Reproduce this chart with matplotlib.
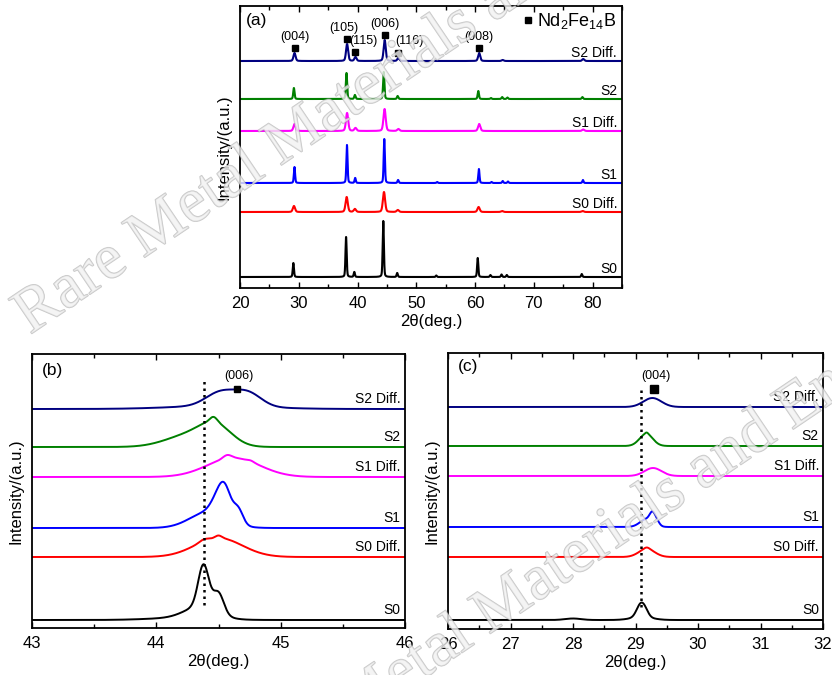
import numpy as np
import matplotlib
matplotlib.use("Agg")
import matplotlib.pyplot as plt
from matplotlib import patheffects as pe
from matplotlib.lines import Line2D
from matplotlib.ticker import MultipleLocator
from matplotlib.transforms import blended_transform_factory

plt.rcParams['font.family'] = ['Liberation Sans', 'DejaVu Sans']
plt.rcParams['mathtext.fontset'] = 'custom'
plt.rcParams['mathtext.rm'] = 'Liberation Sans'
plt.rcParams['mathtext.it'] = 'Liberation Sans:italic'
plt.rcParams['mathtext.bf'] = 'Liberation Sans:bold'

# ---------------------------------------------------------------- data
samples = ["S0", "S0 Diff.", "S1", "S1 Diff.", "S2", "S2 Diff."]
colors = ["#000000", "#ff0000", "#0000ff", "#ff00ff", "#008000", "#000080"]

# (a) full scan: peak positions (deg), heights (a.u.) and FWHM per sample
pos_a = [
    [29.08, 38.05, 39.45, 44.38, 46.75, 53.40, 60.45, 62.60, 64.50, 65.40, 78.15],
    [29.18, 38.15, 39.55, 44.50, 46.85, 60.60, 64.60, 78.30],
    [29.27, 38.20, 39.60, 44.55, 46.90, 53.55, 60.65, 62.80, 64.70, 65.60, 78.35],
    [29.28, 38.22, 39.65, 44.60, 46.95, 60.70, 78.40],
    [29.17, 38.12, 39.55, 44.46, 46.82, 60.55, 62.70, 64.60, 65.50, 78.25],
    [29.28, 38.22, 39.65, 44.62, 46.95, 60.70, 64.70, 78.40],
]
height_a = [
    [14, 40, 5, 56, 4, 1.5, 19, 2, 2.5, 2, 3],
    [6, 15, 3, 20, 2, 5, 1, 1],
    [16, 38, 5, 44, 3, 1, 14, 1, 2, 1.5, 3],
    [7, 18, 3, 22, 2, 7, 1.5],
    [11, 26, 4, 27, 3, 8, 1, 2, 1.5, 2],
    [8, 17, 4, 21, 3, 8, 1, 2],
]
fwhm_a = [0.24, 0.45, 0.24, 0.45, 0.26, 0.42]
offset_a = [11, 76, 105, 157, 189, 227]

# indexed Nd2Fe14B reflections marked on the S2 Diff. pattern
hkl_labels = ["(004)", "(105)", "(115)", "(006)", "(116)", "(008)"]
hkl_peak_index = [0, 1, 2, 3, 4, 5]

# (b) (006) region: components (centre, height, FWHM) per sample
comp_b = [
    [(44.38, 42, 0.10), (44.50, 20, 0.10), (44.36, 12, 0.30), (44.20, 2, 0.60)],
    [(44.50, 19, 0.45), (44.50, 2.5, 0.06), (44.38, 2, 0.08)],
    [(44.55, 30, 0.12), (44.66, 14, 0.09), (44.48, 10, 0.12), (44.42, 16, 0.35)],
    [(44.62, 19, 0.50), (44.57, 3.5, 0.08), (44.76, 1.2, 0.06)],
    [(44.48, 18, 0.30), (44.27, 12, 0.45), (44.46, 5, 0.07)],
    [(44.52, 14, 0.28), (44.74, 13, 0.25), (44.50, 3, 0.90)],
]
offset_b = [8, 71, 100, 151, 181, 219]
ref_b = 44.38
hkl_b = ("(006)", 44.65)

# (c) (004) region
comp_c = [
    [(29.08, 12, 0.15), (29.155, 5, 0.13), (29.10, 3, 0.40), (28.00, 1.5, 0.30)],
    [(29.18, 8, 0.30), (29.18, 1.5, 0.10)],
    [(29.18, 8, 0.25), (29.27, 9, 0.10), (29.34, 4, 0.10)],
    [(29.28, 8, 0.32)],
    [(29.17, 12, 0.25), (29.18, 1.5, 0.06)],
    [(29.27, 9, 0.34)],
]
offset_c = [9, 72, 102, 153, 183, 222]
ref_c = 29.09
hkl_c = ("(004)", 29.30)


def profile(x, comps, eta=0.0):
    y = np.zeros_like(x)
    for c, h, w in comps:
        d = 2.0 * (x - c) / w
        y += h * ((1 - eta) * np.exp(-np.log(2) * d ** 2) + eta / (1 + d ** 2))
    return y


# ---------------------------------------------------------------- figure
W, H = 832, 675
fig = plt.figure(figsize=(W / 100, H / 100), dpi=100)


def add_axes_px(l, t, r, b):
    return fig.add_axes([l / W, 1 - b / H, (r - l) / W, (b - t) / H])


ax_a = add_axes_px(240, 6, 622, 288)
ax_b = add_axes_px(32, 354, 405, 628)
ax_c = add_axes_px(448, 353, 823, 629)


def style_axes(ax, xlim, major, minor, ytop, tag, tagx, tagy):
    ax.set_xlim(*xlim)
    ax.set_ylim(0, ytop)
    ax.xaxis.set_major_locator(MultipleLocator(major))
    ax.xaxis.set_minor_locator(MultipleLocator(minor))
    ax.set_yticks([])
    ax.tick_params(axis='x', which='both', direction='in', top=True,
                   labelsize=12, pad=6, width=1.0)
    ax.tick_params(axis='x', which='major', length=4)
    ax.tick_params(axis='x', which='minor', length=3)
    for s in ax.spines.values():
        s.set_linewidth(1.3)
    ax.set_xlabel('2θ(deg.)', fontsize=12, labelpad=2)
    ax.set_ylabel('Intensity/(a.u.)', fontsize=12, labelpad=6)
    ax.text(tagx, tagy, tag, transform=ax.transAxes, fontsize=12.5,
            ha='left', va='center')


def draw_labels(ax, offsets, lift, xr):
    tr = blended_transform_factory(ax.transAxes, ax.transData)
    for name, off in zip(samples, offsets):
        ax.text(xr, off + lift, name, transform=tr, ha='right', va='center',
                fontsize=10)


# (a)
x_a = np.arange(20, 85.0001, 0.005)
style_axes(ax_a, (20, 85), 10, 5, 282, '(a)', 0.016, 1 - 15 / 282)
for i in range(6):
    comps = list(zip(pos_a[i], height_a[i], [fwhm_a[i]] * len(pos_a[i])))
    ax_a.plot(x_a, offset_a[i] + profile(x_a, comps, eta=0.3),
              color=colors[i], lw=1.5)
draw_labels(ax_a, offset_a, 8, 0.987)

# reflection markers on the top pattern
top = 5
label_shift = {"(115)": (6, 8), "(116)": (8, 8.5), "(105)": (-2, 8)}
for lab, k in zip(hkl_labels, hkl_peak_index):
    px = pos_a[top][k]
    py = offset_a[top] + height_a[top][k] + 5
    ax_a.plot(px, py, 's', color='k', ms=4.5)
    dx, dy = label_shift.get(lab, (0, 8))
    ax_a.annotate(lab, (px, py), xytext=(dx, dy), textcoords='offset points',
                  ha='center', va='center', fontsize=9)

leg_handle = Line2D([], [], marker='s', color='k', ls='none', ms=5)
ax_a.legend([leg_handle], [r'Nd$_2$Fe$_{14}$B'], loc='upper right',
            frameon=False, fontsize=13, handlelength=0.6, handletextpad=0.2,
            borderaxespad=0.1, borderpad=0.2)

# (b)
x_b = np.linspace(43, 46, 3001)
style_axes(ax_b, (43, 46), 1, 0.5, 274, '(b)', 0.027, 1 - 16 / 274)
for i in range(6):
    ax_b.plot(x_b, offset_b[i] + profile(x_b, comp_b[i]), color=colors[i], lw=1.4)
draw_labels(ax_b, offset_b, 10, 0.987)
ax_b.plot([ref_b, ref_b], [23, 248], color='k', lw=1.8, ls=(0, (1, 1.6)))
yb = offset_b[5] + profile(np.array([hkl_b[1]]), comp_b[5])[0]
ax_b.plot(hkl_b[1], yb, 's', color='k', ms=5)
ax_b.annotate(hkl_b[0], (hkl_b[1], yb), xytext=(1, 10), textcoords='offset points',
              ha='center', va='center', fontsize=9)

# (c)
x_c = np.linspace(26, 32, 3001)
style_axes(ax_c, (26, 32), 1, 0.5, 276, '(c)', 10 / 375, 1 - 14 / 276)
for i in range(6):
    ax_c.plot(x_c, offset_c[i] + profile(x_c, comp_c[i]), color=colors[i], lw=1.4)
draw_labels(ax_c, offset_c, 10, 0.989)
ax_c.plot([ref_c, ref_c], [22, 242], color='k', lw=1.8, ls=(0, (1, 1.6)))
yc = offset_c[5] + max(h for _, h, _ in comp_c[5]) + 9
ax_c.plot(hkl_c[1], yc, 's', color='k', ms=5.5)
ax_c.annotate(hkl_c[0], (hkl_c[1], yc), xytext=(1, 9), textcoords='offset points',
              ha='center', va='center', fontsize=9)

# publisher watermark
wm = "Rare Metal Materials and Engineering"
for (wx, wy) in [(0.036, 0.504), (0.287, -0.19)]:
    fig.text(wx, wy, wm, fontsize=46, family='Liberation Serif',
             rotation=34.0, rotation_mode='anchor', ha='left', va='baseline',
             color='#f2f2f2', alpha=0.55, zorder=10,
             path_effects=[pe.Stroke(linewidth=1.0, foreground='#9a9a9a'),
                           pe.Normal()])

fig.savefig('out.png', dpi=100)
